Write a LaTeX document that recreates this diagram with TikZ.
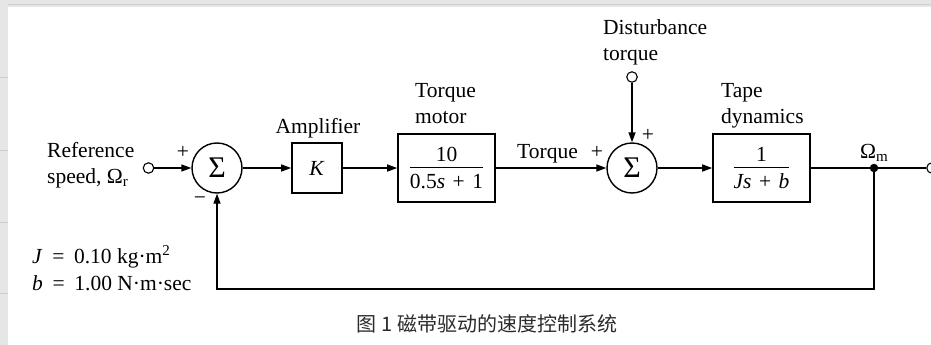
\documentclass[tikz,border=0pt]{standalone}
\usepackage{fontspec}
\setmainfont{Liberation Serif}
\newfontfamily\cjk{Noto Sans CJK SC}
\usetikzlibrary{arrows.meta}
\definecolor{framegray}{HTML}{E6E6E6}
\definecolor{frameline}{HTML}{CFCFCF}
\definecolor{captiongray}{HTML}{2B2B2B}
\newcommand\blkfrac[2]{{\renewcommand\arraystretch{0}\setlength\arrayrulewidth{1.2pt}%
  \begin{tabular}{@{}c@{}}\rule[-5pt]{0pt}{5pt}#1\\ \hline \rule{0pt}{20pt}#2\end{tabular}}}
\newcommand\pl{\hspace{0.35em}+\hspace{0.35em}}
\newcommand\eqs{\hspace{0.45em}=\hspace{0.45em}}
\begin{document}
\begin{tikzpicture}[x=1pt,y=-1pt,
  lbl/.style={inner sep=0pt,font=\fontsize{21.5}{26}\selectfont},
  blk/.style={draw,line width=1.6pt,inner sep=0pt,font=\fontsize{21.5}{26}\selectfont},
  sumc/.style={draw,circle,line width=1.4pt,minimum size=50pt,inner sep=0pt,font=\fontsize{30}{30}\selectfont},
  port/.style={draw,circle,line width=1.1pt,fill=white,minimum size=10.5pt,inner sep=0pt},
  sig/.style={line width=1.4pt,-{Triangle[length=10pt,width=7pt]}},
  wire/.style={line width=1.4pt},
]
\useasboundingbox (0,0) rectangle (931,345);
\fill[white] (0,0) rectangle (931,345);
% screenshot frame
\fill[framegray] (0,0) rectangle (931,7);
\draw[frameline,line width=1pt] (8,5) -- (931,5);
\fill[framegray] (0,0) rectangle (8,345);
\foreach \yy in {77,150,222,293} \draw[frameline,line width=1pt] (0,\yy) -- (8,\yy);

% blocks
\node[port] (in) at (148.5,168) {};
\node[sumc] (s1) at (217,168) {Σ};
\node[blk,minimum width=50pt,minimum height=50pt] (amp) at (317,168) {\textit{K}};
\node[blk,minimum width=97pt,minimum height=68pt] (mot) at (446.5,168) {\blkfrac{10}{0.5\textit{s}\pl 1}};
\node[sumc] (s2) at (632,168) {Σ};
\node[port] (dist) at (632,77) {};
\node[blk,minimum width=97pt,minimum height=68pt] (tape) at (761.5,168) {\blkfrac{1}{\textit{Js}\pl\textit{b}}};
\node[fill,circle,minimum size=8.5pt,inner sep=0pt] (br) at (874,168) {};
\node[port] (out) at (932,168) {};
\coordinate (fb1) at (874,289);
\coordinate (fb2) at (217,289);

% connectors
\draw[sig] (in) -- (s1);
\draw[sig] (s1) -- (amp);
\draw[sig] (amp) -- (mot);
\draw[sig] (mot) -- (s2);
\draw[sig] (dist) -- (s2);
\draw[sig] (s2) -- (tape);
\draw[wire] (tape) -- (br) -- (out);
\draw[sig] (br) -- (fb1) -- (fb2) -- (s1);

% labels (base anchor of a two-line node = baseline of its last line)
\node[lbl,anchor=base west,align=left] (lref) at (47,183) {Reference\\speed, Ω\textsubscript{r}};
\node[lbl,anchor=base] (lamp) at (318,133) {Amplifier};
\node[lbl,anchor=base west,align=left] (lmot) at (415,123) {Torque\\motor};
\node[lbl,anchor=base west] (ltq) at (517,158) {Torque};
\node[lbl,anchor=base west,align=left] (ldist) at (603,60) {Disturbance\\torque};
\node[lbl,anchor=base west,align=left] (ltape) at (721,123) {Tape\\dynamics};
\node[lbl,anchor=base west] (lom) at (860,158) {Ω\textsubscript{m}};
\node[lbl] (p1) at (183,152) {+};
\node[lbl] (m1) at (200,201) {−};
\node[lbl] (p2) at (597,152) {+};
\node[lbl] (p3) at (648,135) {+};
\node[lbl,anchor=base west] (lJ) at (32,263) {\textit{J}\eqs 0.10 kg·m\textsuperscript{2}};
\node[lbl,anchor=base west] (lb) at (32,290) {\textit{b}\eqs 1.00 N·m·sec};
\node[inner sep=0pt,font=\cjk\fontsize{20}{24}\selectfont,text=captiongray] (cap) at (487,324) {图 1 磁带驱动的速度控制系统};
\end{tikzpicture}
\end{document}
